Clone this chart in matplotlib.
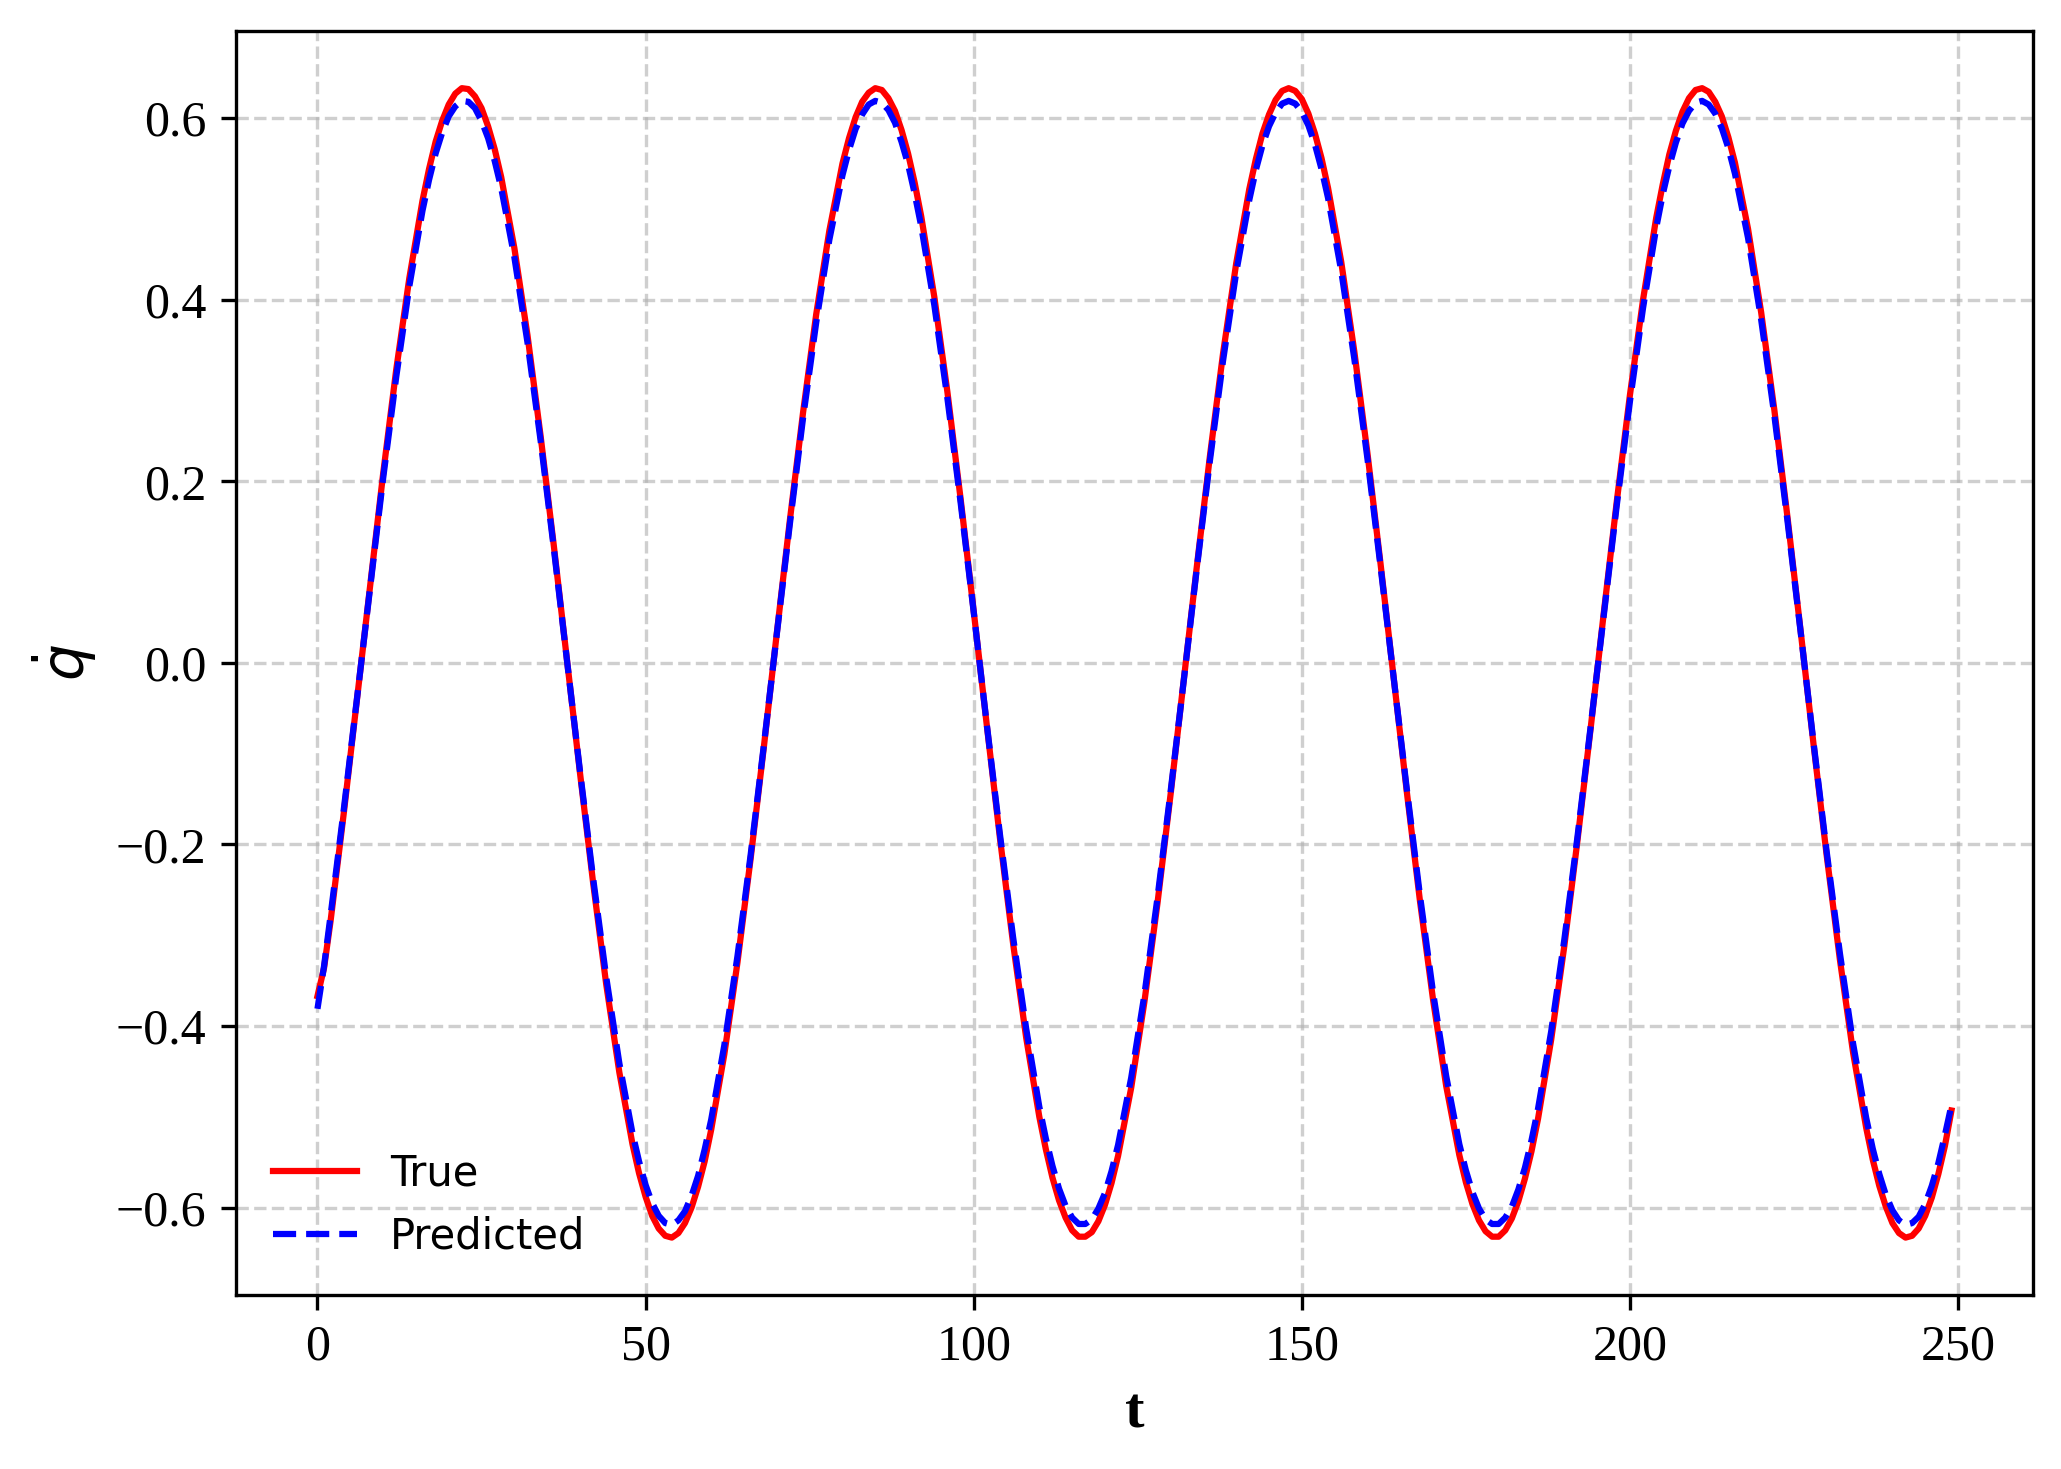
import matplotlib
matplotlib.use("Agg")
import matplotlib.pyplot as plt

# time samples (every 2 steps, plus the first and last steps)
t = [0, 1] + list(range(2, 249, 2)) + [249]

q_dot_true = [
    -0.367, -0.336, -0.284, -0.166, -0.041, 0.085, 0.208, 0.323, 0.424, 0.509,
    0.574, 0.615, 0.633, 0.624, 0.591, 0.535, 0.457, 0.361, 0.250, 0.130,
    0.004, -0.121, -0.242, -0.354, -0.451, -0.530, -0.588, -0.623, -0.633, -0.617,
    -0.577, -0.514, -0.431, -0.330, -0.216, -0.094, 0.033, 0.158, 0.276, 0.384,
    0.476, 0.550, 0.601, 0.628, 0.631, 0.608, 0.561, 0.492, 0.403, 0.298,
    0.181, 0.057, -0.069, -0.193, -0.309, -0.413, -0.500, -0.567, -0.611, -0.632,
    -0.627, -0.597, -0.543, -0.468, -0.374, -0.265, -0.145, -0.020, 0.106, 0.228,
    0.341, 0.440, 0.522, 0.583, 0.620, 0.633, 0.621, 0.583, 0.523, 0.442,
    0.343, 0.231, 0.109, -0.017, -0.142, -0.262, -0.371, -0.466, -0.542, -0.596,
    -0.626, -0.632, -0.612, -0.568, -0.502, -0.415, -0.312, -0.196, -0.073, 0.054,
    0.178, 0.295, 0.400, 0.490, 0.560, 0.607, 0.631, 0.629, 0.602, 0.551,
    0.478, 0.386, 0.279, 0.161, 0.036, -0.091, -0.213, -0.327, -0.429, -0.512,
    -0.576, -0.617, -0.633, -0.623, -0.589, -0.532, -0.493,
]

q_dot_pred = [
    -0.381, -0.334, -0.278, -0.162, -0.040, 0.083, 0.203, 0.315, 0.415, 0.498,
    0.561, 0.602, 0.619, 0.611, 0.578, 0.523, 0.447, 0.353, 0.245, 0.127,
    0.004, -0.119, -0.237, -0.346, -0.441, -0.518, -0.575, -0.609, -0.619, -0.604,
    -0.565, -0.503, -0.421, -0.323, -0.212, -0.092, 0.032, 0.154, 0.270, 0.375,
    0.466, 0.537, 0.588, 0.615, 0.617, 0.595, 0.549, 0.481, 0.394, 0.291,
    0.177, 0.056, -0.068, -0.189, -0.302, -0.403, -0.489, -0.554, -0.598, -0.618,
    -0.613, -0.584, -0.531, -0.457, -0.366, -0.259, -0.142, -0.020, 0.104, 0.223,
    0.333, 0.430, 0.510, 0.570, 0.606, 0.619, 0.607, 0.571, 0.512, 0.432,
    0.335, 0.225, 0.106, -0.017, -0.139, -0.256, -0.363, -0.455, -0.530, -0.583,
    -0.613, -0.618, -0.599, -0.556, -0.491, -0.406, -0.305, -0.192, -0.071, 0.052,
    0.174, 0.288, 0.391, 0.479, 0.547, 0.594, 0.617, 0.615, 0.589, 0.539,
    0.468, 0.378, 0.273, 0.157, 0.035, -0.089, -0.209, -0.320, -0.419, -0.501,
    -0.563, -0.603, -0.619, -0.610, -0.576, -0.520, -0.487,
]

# extra odd-step samples around every peak and trough
t_extra = [
    17, 19, 21, 23, 25, 27,
    49, 51, 53, 55, 57, 59,
    81, 83, 85, 87, 89, 91,
    111, 113, 115, 117, 119, 121,
    143, 145, 147, 149, 151, 153,
    175, 177, 179, 181, 183, 185,
    205, 207, 209, 211, 213, 215,
    237, 239, 241, 243, 245, 247,
]
q_dot_true_extra = [
    0.544, 0.597, 0.627, 0.632, 0.611, 0.566,
    -0.562, -0.609, -0.631, -0.628, -0.600, -0.549,
    0.578, 0.618, 0.633, 0.622, 0.587, 0.529,
    -0.536, -0.592, -0.625, -0.632, -0.615, -0.573,
    0.555, 0.604, 0.630, 0.630, 0.605, 0.556,
    -0.572, -0.614, -0.632, -0.625, -0.593, -0.538,
    0.527, 0.586, 0.622, 0.633, 0.618, 0.579,
    -0.547, -0.599, -0.628, -0.631, -0.609, -0.563,
]
q_dot_pred_extra = [
    0.532, 0.584, 0.613, 0.618, 0.597, 0.553,
    -0.549, -0.595, -0.617, -0.614, -0.587, -0.536,
    0.565, 0.604, 0.619, 0.609, 0.574, 0.517,
    -0.524, -0.579, -0.611, -0.618, -0.601, -0.560,
    0.543, 0.591, 0.616, 0.616, 0.592, 0.544,
    -0.559, -0.601, -0.618, -0.611, -0.580, -0.526,
    0.516, 0.573, 0.608, 0.619, 0.605, 0.567,
    -0.535, -0.586, -0.614, -0.617, -0.596, -0.551,
]

rows = sorted(zip(t + t_extra,
                  q_dot_true + q_dot_true_extra,
                  q_dot_pred + q_dot_pred_extra))
t_all = [r[0] for r in rows]
true_all = [r[1] for r in rows]
pred_all = [r[2] for r in rows]

plt.rcParams["font.family"] = "serif"
plt.rcParams["font.serif"] = ["Times New Roman", "Liberation Serif", "DejaVu Serif"]
plt.rcParams["mathtext.fontset"] = "dejavusans"

fig = plt.figure(figsize=(2061 / 300, 1469 / 300), dpi=300)
ax = fig.add_axes([0.1144, 0.1184, 0.8721, 0.8607])

ax.plot(t_all, true_all, color="red", linestyle="-", linewidth=1.5, label="True")
ax.plot(t_all, pred_all, color="blue", linestyle="--", linewidth=1.5, label="Predicted")

ax.set_xlabel("t", fontsize=14, fontweight="bold")
ax.set_ylabel(r"$\dot{q}$", fontsize=14)
ax.tick_params(labelsize=12)
ax.grid(True, linestyle="--", alpha=0.6)
ax.legend(loc="lower left", frameon=False, prop={"family": "DejaVu Sans", "size": 10})

fig.savefig("out.png", dpi=300)
